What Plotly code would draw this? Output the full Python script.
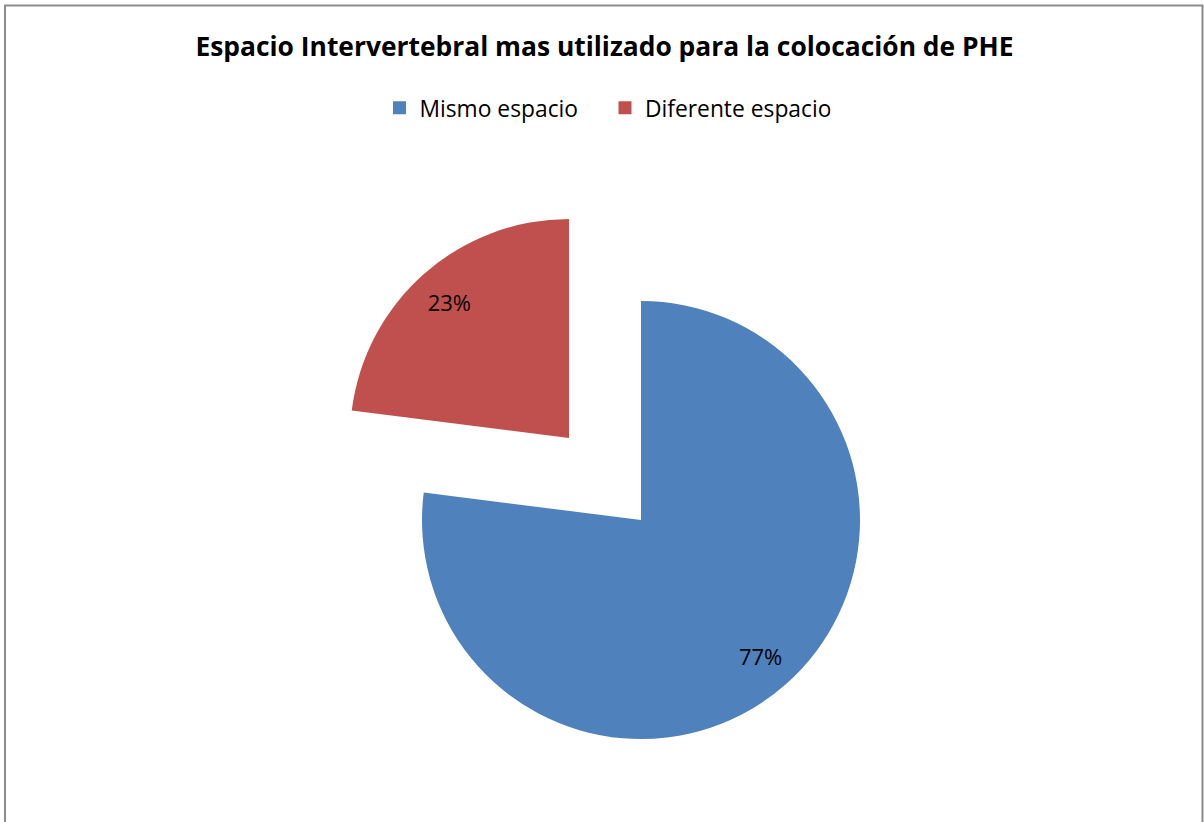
import plotly.graph_objects as go

# Data
categories = ["Mismo espacio", "Diferente espacio"]
values = [77, 23]
colors = ["#4F81BD", "#C0504D"]
title_text = "Espacio Intervertebral mas utilizado para la colocación de PHE"

W, H = 1204, 822
FONT = "Open Sans"
CLEAR = "rgba(0,0,0,0)"

def px_dom_x(cx, r):
    return [(cx - r) / W, (cx + r) / W]

def px_dom_y(cy, r):
    return [(H - cy - r) / H, (H - cy + r) / H]

R = 219
main_dom = dict(x=px_dom_x(641, R), y=px_dom_y(520, R))
expl_dom = dict(x=px_dom_x(569, R), y=px_dom_y(438, R))
common = dict(labels=categories, values=values, sort=False, direction="clockwise",
              rotation=0, showlegend=False, hoverinfo="label+percent")

fig = go.Figure()
# Main pie: blue slice visible, red slice drawn exploded by the next trace
fig.add_trace(go.Pie(**common, marker=dict(colors=[colors[0], CLEAR], line=dict(width=0)),
                     textinfo="none", domain=main_dom))
fig.add_trace(go.Pie(**common, marker=dict(colors=[CLEAR, colors[1]], line=dict(width=0)),
                     textinfo="none", domain=expl_dom))
# Transparent label rings (hole pushes the inside labels outward like Excel)
HOLE = 0.652
lab_font = dict(family=FONT, size=22, color="black")
fig.add_trace(go.Pie(**common, marker=dict(colors=[CLEAR, CLEAR], line=dict(width=0)),
                     hole=HOLE, texttemplate=["%{percent:.0%}", ""], textposition="inside",
                     insidetextorientation="horizontal", textfont=lab_font,
                     domain=main_dom))
fig.add_trace(go.Pie(**common, marker=dict(colors=[CLEAR, CLEAR], line=dict(width=0)),
                     hole=HOLE, texttemplate=["", "%{percent:.0%}"], textposition="inside",
                     insidetextorientation="horizontal", textfont=lab_font,
                     domain=expl_dom))
# Legend entries
for name, c in zip(categories, colors):
    fig.add_trace(go.Scatter(
        x=[None], y=[None], mode="markers", name=name,
        marker=dict(symbol="square", size=13, color=c),
    ))

fig.update_layout(
    width=W, height=H,
    margin=dict(l=0, r=0, t=0, b=0),
    paper_bgcolor="white", plot_bgcolor="white",
    title=dict(text="<b>" + title_text + "</b>", x=604.5 / W, xanchor="center",
               y=(H - 47) / H, yanchor="middle",
               font=dict(family=FONT, size=26.4, color="black")),
    legend=dict(orientation="h", x=605 / W, xanchor="center", y=(H - 108) / H,
                yanchor="middle", font=dict(family=FONT, size=22.8, color="black"),
                entrywidth=180.5, bgcolor=CLEAR),
    xaxis=dict(visible=False), yaxis=dict(visible=False),
    shapes=[dict(type="rect", xref="paper", yref="paper",
                 x0=5 / W, x1=1202.5 / W, y0=-0.1, y1=(H - 5.5) / H,
                 line=dict(color="#8C8C8C", width=2), fillcolor=CLEAR)],
)

fig.write_html("out.html")
